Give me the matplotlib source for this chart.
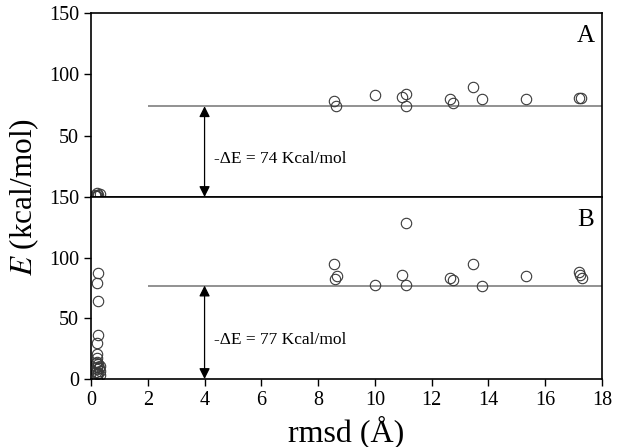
import matplotlib.pyplot as plt

# Panel A data (rmsd in Angstrom, energy in kcal/mol)
a_rmsd = [0.15, 0.2, 0.25, 0.3, 0.22, 0.18,
          8.55, 8.62, 10.02, 10.94, 11.09, 11.09, 12.66, 12.76,
          13.47, 13.76, 15.32, 17.2, 17.25]
a_energy = [2, 3, 1.5, 2.5, 1, 0.5,
            78, 74.5, 83, 81.5, 84, 74.5, 80, 77,
            90, 79.5, 80, 80.5, 81]
a_level = 74

# Panel B data
b_rmsd = [0.26, 0.22, 0.25, 0.24, 0.2, 0.22, 0.2, 0.22,
          0.18, 0.25, 0.3, 0.2, 0.28, 0.22, 0.32, 0.18, 0.25, 0.2, 0.3, 0.22,
          8.56, 8.65, 8.6, 10.02, 10.95, 11.09, 11.09, 12.66, 12.76,
          13.47, 13.76, 15.32, 17.19, 17.22, 17.28]
b_energy = [87, 79, 64, 36, 30, 21, 17, 14,
            13, 12, 11, 10, 9, 8, 7, 6, 5, 4, 3, 2,
            95, 85, 82.5, 77.5, 85.5, 128.5, 77.5, 83, 81.5,
            95, 76.5, 84.5, 88, 85.5, 83.5]
b_level = 77

xticks = [0, 2, 4, 6, 8, 10, 12, 14, 16, 18]
yticks = [0, 50, 100, 150]

plt.rcParams['font.family'] = ['Liberation Serif', 'DejaVu Serif']

fig = plt.figure(figsize=(6.17, 4.47), dpi=100)
left, right = 0.1475, 0.9757
bot, mid, top = 0.1521, 0.5593, 0.9709
ax_a = fig.add_axes([left, mid, right - left, top - mid])
ax_b = fig.add_axes([left, bot, right - left, mid - bot])

panels = [(ax_a, a_rmsd, a_energy, a_level, 'A'),
          (ax_b, b_rmsd, b_energy, b_level, 'B')]

for ax, xs, ys, level, tag in panels:
    ax.plot(xs, ys, linestyle='none', marker='o', markersize=7.5,
            markerfacecolor='none', markeredgecolor='#3a3a3a',
            markeredgewidth=0.8)
    ax.hlines(level, 2, 18, color='#7f7f7f', linewidth=1.2, zorder=1)
    ax.annotate('', xy=(4, level), xytext=(4, 0),
                arrowprops=dict(arrowstyle='<|-|>', color='black',
                                lw=0.9, mutation_scale=16,
                                shrinkA=0, shrinkB=0))
    ax.text(4.35, level / 2 - 6, f'-\u0394E = {level} Kcal/mol',
            fontsize=12.5, va='center', ha='left')
    ax.text(0.985, 0.875, tag, transform=ax.transAxes, fontsize=18,
            ha='right', va='center')
    ax.set_xlim(0, 18)
    ax.set_ylim(0, 150)
    ax.set_xticks(xticks)
    ax.set_yticks(yticks)
    ax.tick_params(direction='out', length=5, width=1, labelsize=14.5)
    for sp in ax.spines.values():
        sp.set_linewidth(1.2)

ax_a.tick_params(axis='x', bottom=False, labelbottom=False)
ax_a.set_yticks([50, 100, 150])

fig.text(0.04, mid, r'$E$ (kcal/mol)', rotation=90, fontsize=22.5,
         ha='center', va='center', math_fontfamily='stix')
fig.text((left + right) / 2, 0.035, 'rmsd (\u00c5)', fontsize=23,
         ha='center', va='center')

fig.savefig('out.png', dpi=100)
